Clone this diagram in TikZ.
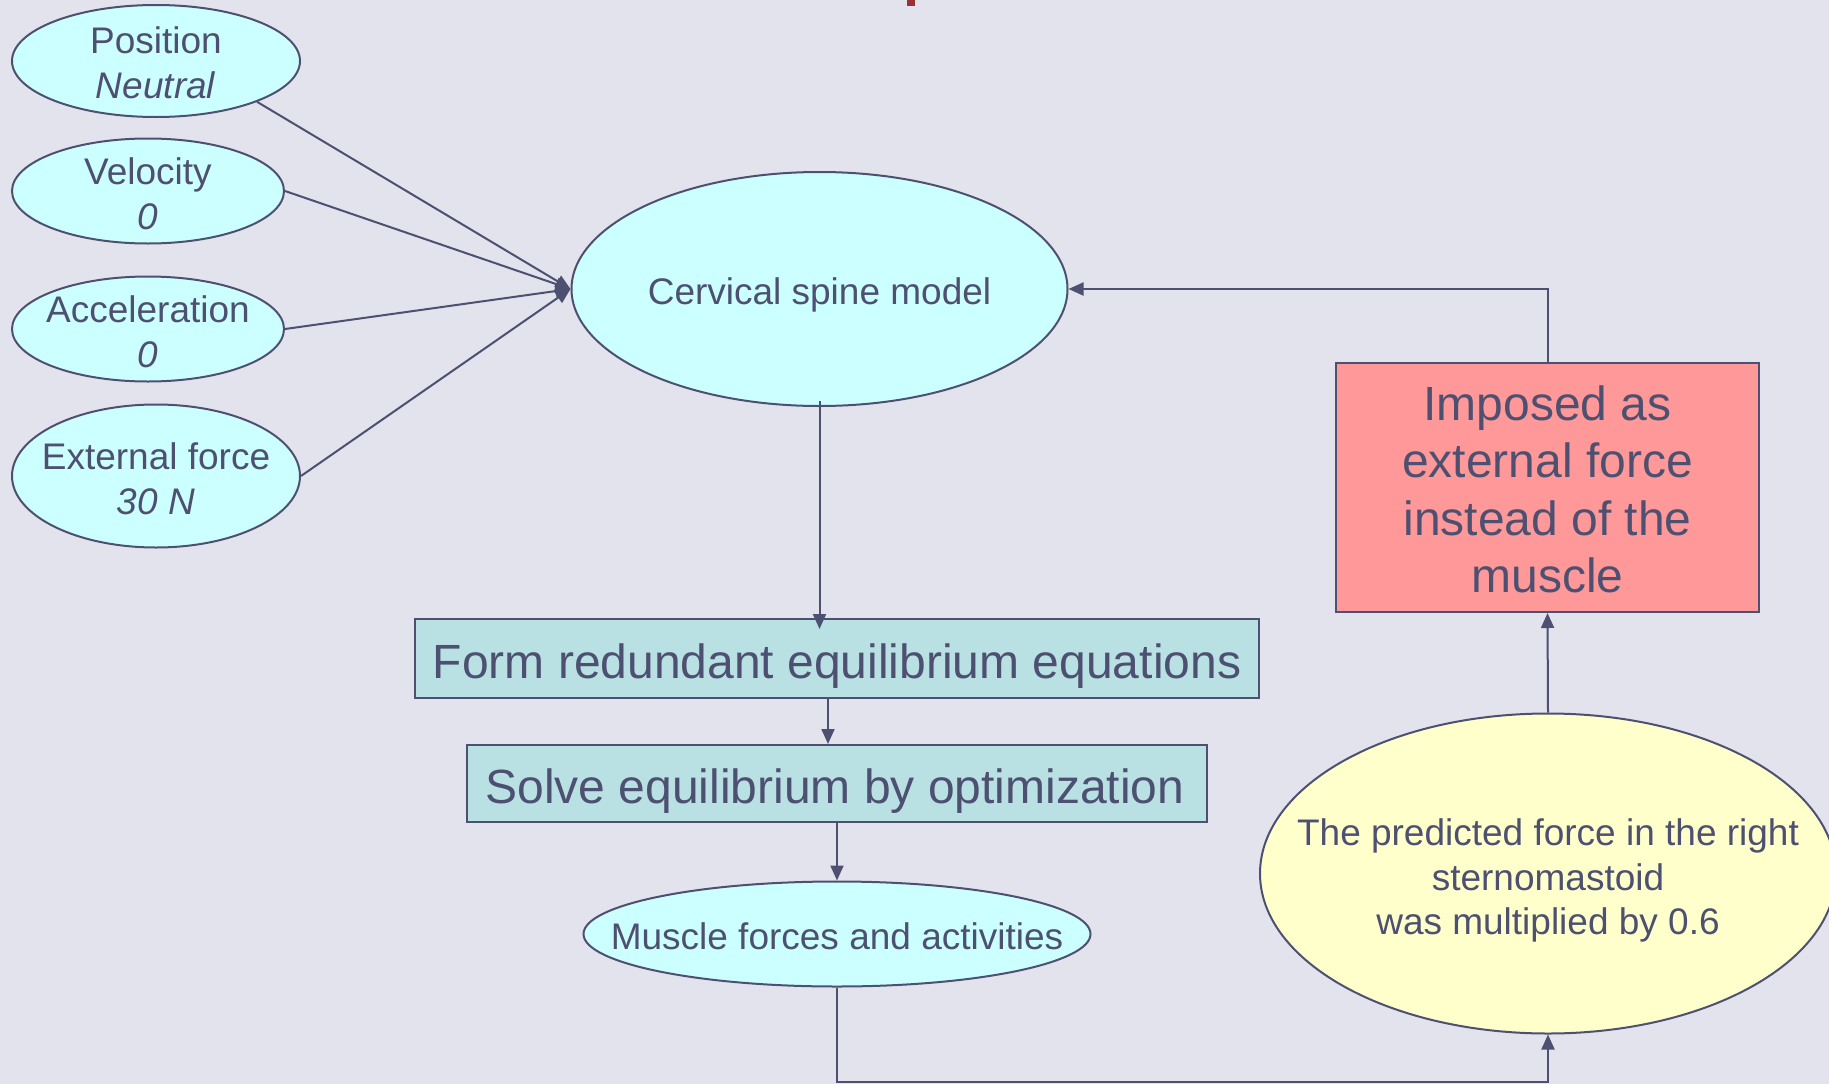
\documentclass[tikz,border=0pt]{standalone}
\usepackage{fontspec}
\setmainfont{Liberation Sans}
\usetikzlibrary{shapes.geometric,arrows.meta}
\definecolor{bgc}{RGB}{227,227,238}
\definecolor{linec}{RGB}{77,80,112}
\definecolor{cyanf}{RGB}{204,255,255}
\definecolor{tealf}{RGB}{185,225,227}
\definecolor{redf}{RGB}{255,153,153}
\definecolor{yelf}{RGB}{255,255,204}
\definecolor{markc}{RGB}{153,51,51}
\newcommand\fsA{\fontsize{37}{44.5}\selectfont}
\newcommand\fsB{\fontsize{48}{57.5}\selectfont}
\begin{document}
\begin{tikzpicture}[x=1pt,y=-1pt,
 ell/.style={ellipse, draw=linec, line width=2pt, fill=cyanf, inner sep=0pt},
 txtA/.style={text=linec, font=\fsA, align=center, inner sep=0pt},
 txtB/.style={text=linec, font=\fsB, align=center, inner sep=0pt},
 box/.style={rectangle, draw=linec, line width=2pt, fill=tealf, inner sep=0pt},
 conn/.style={draw=linec, line width=2pt},
 arr/.style={conn, -{Triangle[length=15pt,width=13pt]}},
]
\useasboundingbox (0,0) rectangle (1829,1084);
\fill[bgc] (0,0) rectangle (1829,1084);
\fill[markc] (907,0) rectangle (915,6);

% input ellipses
\node[ell, minimum width=288pt, minimum height=112pt] (pos) at (156,61) {};
\node[txtA] at ([yshift=-2pt]pos) {Position\\\textit{Neutral}};
\node[ell, minimum width=272pt, minimum height=105pt] (vel) at (148,191) {};
\node[txtA] at ([yshift=-3pt]vel) {Velocity\\\textit{0}};
\node[ell, minimum width=272pt, minimum height=105pt] (acc) at (148,329) {};
\node[txtA] at ([yshift=-3pt]acc) {Acceleration\\\textit{0}};
\node[ell, minimum width=288pt, minimum height=143pt] (ext) at (156,476) {};
\node[txtA] at ([yshift=-3pt]ext) {External force\\\textit{30 N}};

% central model
\node[ell, minimum width=496pt, minimum height=234pt] (cerv) at (819.5,289) {};
\node[txtA] at ([yshift=-6pt]cerv) {Cervical spine model};

% boxes
\node[box, minimum width=844pt, minimum height=79pt] (form) at (837,658.5) {};
\node[txtB] at ([yshift=-8pt]form) {Form redundant equilibrium equations};
\node[box, minimum width=740pt, minimum height=77pt] (solve) at (837,783.5) {};
\node[txtB] at ([yshift=-8pt,xshift=-2pt]solve) {Solve equilibrium by optimization};

\node[ell, minimum width=507pt, minimum height=105pt] (musc) at (837,934) {};
\node[txtA] at ([yshift=-2pt]musc) {Muscle forces and activities};

\node[box, fill=redf, minimum width=423pt, minimum height=249pt] (red) at (1547.5,487.5) {};
\node[txtB] at ([yshift=-2pt]red) {Imposed as\\external force\\instead of the\\muscle};

\node[ell, fill=yelf, minimum width=576pt, minimum height=320pt] (yel) at (1548,873.5) {};
\node[txtA] at ([yshift=-7pt]yel) {The predicted force in the right\\sternomastoid\\was multiplied by 0.6};

\coordinate (bot) at (0,1082);

% connectors
\draw[arr] (pos.-22) -- (cerv.west);
\draw[arr] (vel.east) -- (cerv.west);
\draw[arr] (acc.east) -- (cerv.west);
\draw[arr] (ext.east) -- (cerv.west);

\draw[arr] ([yshift=6pt]cerv.south) -- ([yshift=-11pt]cerv.south |- form.north);
\draw[arr] ([xshift=-9pt]form.south) -- ([xshift=-9pt]form.south |- solve.north);
\draw[arr] (solve.south) -- (musc.north);
\draw[arr] (musc.south) -- (musc.south |- bot) -| (yel.south);
\draw[arr] (yel.north) -- (red.south);
\draw[arr] (red.north) |- (cerv.east);
\end{tikzpicture}
\end{document}
